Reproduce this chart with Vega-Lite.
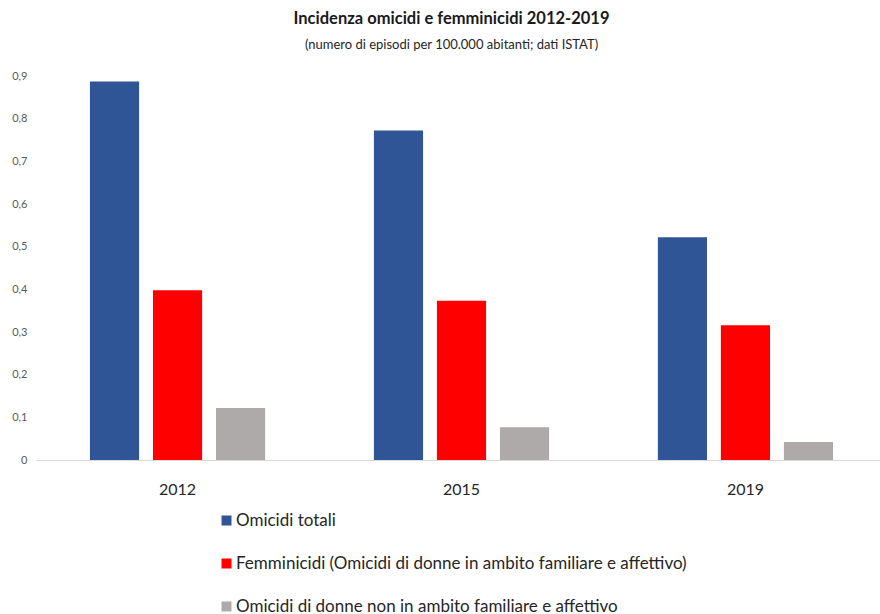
{
  "$schema": "https://vega.github.io/schema/vega-lite/v6.json",
  "autosize": {"type": "none"},
  "padding": {"left": 36, "top": 76, "right": 0, "bottom": 154},
  "width": 851,
  "height": 384,
  "background": "white",
  "title": {
    "text": "Incidenza omicidi e femminicidi 2012-2019",
    "subtitle": "(numero di episodi per 100.000 abitanti; dati ISTAT)",
    "anchor": "middle",
    "dx": -10,
    "offset": 18,
    "font": "Lato",
    "fontSize": 16.5,
    "fontWeight": "bold",
    "color": "#1a1a1a",
    "subtitleFont": "Lato",
    "subtitleFontSize": 13,
    "subtitleColor": "#262626",
    "subtitlePadding": 12
  },
  "data": {
    "values": [
      {"anno": "2012", "serie": "Omicidi totali", "valore": 0.887},
      {"anno": "2012", "serie": "Femminicidi (Omicidi di donne in ambito familiare e affettivo)", "valore": 0.398},
      {"anno": "2012", "serie": "Omicidi di donne non in ambito familiare e affettivo", "valore": 0.122},
      {"anno": "2015", "serie": "Omicidi totali", "valore": 0.772},
      {"anno": "2015", "serie": "Femminicidi (Omicidi di donne in ambito familiare e affettivo)", "valore": 0.373},
      {"anno": "2015", "serie": "Omicidi di donne non in ambito familiare e affettivo", "valore": 0.077},
      {"anno": "2019", "serie": "Omicidi totali", "valore": 0.522},
      {"anno": "2019", "serie": "Femminicidi (Omicidi di donne in ambito familiare e affettivo)", "valore": 0.316},
      {"anno": "2019", "serie": "Omicidi di donne non in ambito familiare e affettivo", "valore": 0.042}
    ]
  },
  "mark": {"type": "bar"},
  "encoding": {
    "x": {
      "field": "anno",
      "type": "nominal",
      "scale": {"paddingInner": 0.383, "paddingOuter": 0.19},
      "axis": {
        "title": null,
        "labelAngle": 0,
        "labelFont": "Lato",
        "labelFontSize": 16,
        "labelColor": "#262626",
        "labelPadding": 21,
        "ticks": false,
        "domain": true,
        "domainColor": "#d9d9d9",
        "domainWidth": 1
      }
    },
    "xOffset": {
      "field": "serie",
      "type": "nominal",
      "sort": ["Omicidi totali", "Femminicidi (Omicidi di donne in ambito familiare e affettivo)", "Omicidi di donne non in ambito familiare e affettivo"],
      "scale": {"paddingInner": 0.22, "paddingOuter": 0}
    },
    "y": {
      "field": "valore",
      "type": "quantitative",
      "scale": {"domain": [0, 0.9], "nice": false},
      "axis": {
        "title": null,
        "values": [0, 0.1, 0.2, 0.3, 0.4, 0.5, 0.6, 0.7, 0.8, 0.9],
        "labelExpr": "datum.value == 0 ? '0' : replace(format(datum.value, '.1f'), '.', ',')",
        "labelFont": "Lato",
        "labelFontSize": 11,
        "labelColor": "#595959",
        "labelPadding": 9,
        "ticks": false,
        "domain": false,
        "grid": false
      }
    },
    "color": {
      "field": "serie",
      "type": "nominal",
      "scale": {
        "domain": ["Omicidi totali", "Femminicidi (Omicidi di donne in ambito familiare e affettivo)", "Omicidi di donne non in ambito familiare e affettivo"],
        "range": ["#2f5597", "#ff0000", "#aeaaaa"]
      },
      "legend": {
        "title": null,
        "orient": "none",
        "legendX": 182,
        "legendY": 436,
        "direction": "vertical",
        "symbolType": "square",
        "symbolSize": 100,
        "symbolStrokeWidth": 0,
        "symbolOpacity": 1,
        "labelFont": "Lato",
        "labelFontSize": 17,
        "labelColor": "#262626",
        "labelOffset": 1,
        "labelLimit": 600,
        "rowPadding": 25
      }
    }
  },
  "config": {"view": {"stroke": null}}
}
